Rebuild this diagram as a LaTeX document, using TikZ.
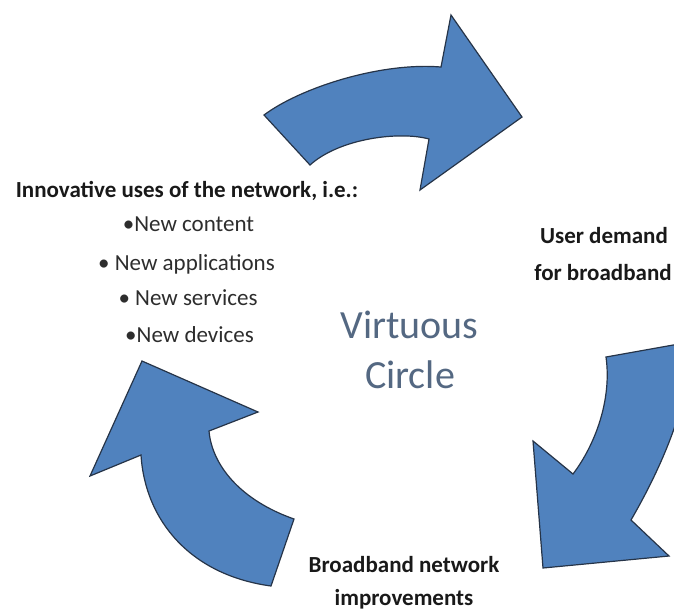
\documentclass[tikz,border=0pt]{standalone}
\usepackage{fontspec}
\setmainfont{Carlito}
\definecolor{arrowfill}{RGB}{80,130,190}
\definecolor{arrowline}{RGB}{38,52,72}
\definecolor{labeltext}{RGB}{25,25,25}
\definecolor{itemtext}{RGB}{45,45,45}
\definecolor{titletext}{RGB}{84,104,130}
\tikzset{
  cyclearrow/.style={fill=arrowfill, draw=arrowline, line width=0.6pt, line join=miter},
  steplabel/.style={anchor=base, inner sep=0pt, text=labeltext, font=\fontsize{11.5}{13}\selectfont\bfseries},
  itemlabel/.style={anchor=base, inner sep=0pt, text=itemtext, font=\fontsize{11.5}{13}\selectfont},
  titlelabel/.style={anchor=base, inner sep=0pt, text=titletext, font=\fontsize{20}{24}\selectfont}
}
\begin{document}
\begin{tikzpicture}[x=0.5pt, y=-0.5pt]
\useasboundingbox (0,0) rectangle (674,612);

% upper arrow: from the innovation stage towards user demand
\draw[cyclearrow] (264,115) .. controls (300,88) and (380,62) .. (441,67)
  -- (451,15) -- (522,117) -- (420,190) -- (429,139)
  .. controls (400,131) and (340,138) .. (310,165) -- cycle;

% right arrow: from user demand down to network improvements
\begin{scope}
  \clip (0,0) rectangle (674,612);
  \draw[cyclearrow] (606,357) -- (690,342)
    .. controls (692,400) and (660,470) .. (631,520)
    -- (669,556) -- (543,568) -- (533,441) -- (573,474)
    .. controls (595,445) and (612,400) .. (606,357) -- cycle;
\end{scope}

% left arrow: from network improvements back up to innovation
\draw[cyclearrow] (142,361) -- (258,412) -- (209,431)
  .. controls (212,465) and (240,500) .. (294,519)
  -- (271,586)
  .. controls (190,575) and (145,520) .. (141,455)
  -- (90,476) -- cycle;

% stage labels
\node[steplabel] (innov) at (187,197) {Innovative uses of the network, i.e.:};
\node[itemlabel] (content) at (188.5,231) {•New content};
\node[itemlabel] (apps) at (186.5,270) {• New applications};
\node[itemlabel] (services) at (188,305) {• New services};
\node[itemlabel] (devices) at (189.5,342) {•New devices};

\node[steplabel] (demand) at (604,243) {User demand};
\node[steplabel] (demandb) at (603,280) {for broadband};

\node[steplabel] (network) at (404,572) {Broadband network};
\node[steplabel] (networkb) at (404,605) {improvements};

% centre title
\node[titlelabel] (title) at (409.5,338) {Virtuous};
\node[titlelabel] (titleb) at (410,388) {Circle};
\end{tikzpicture}
\end{document}
